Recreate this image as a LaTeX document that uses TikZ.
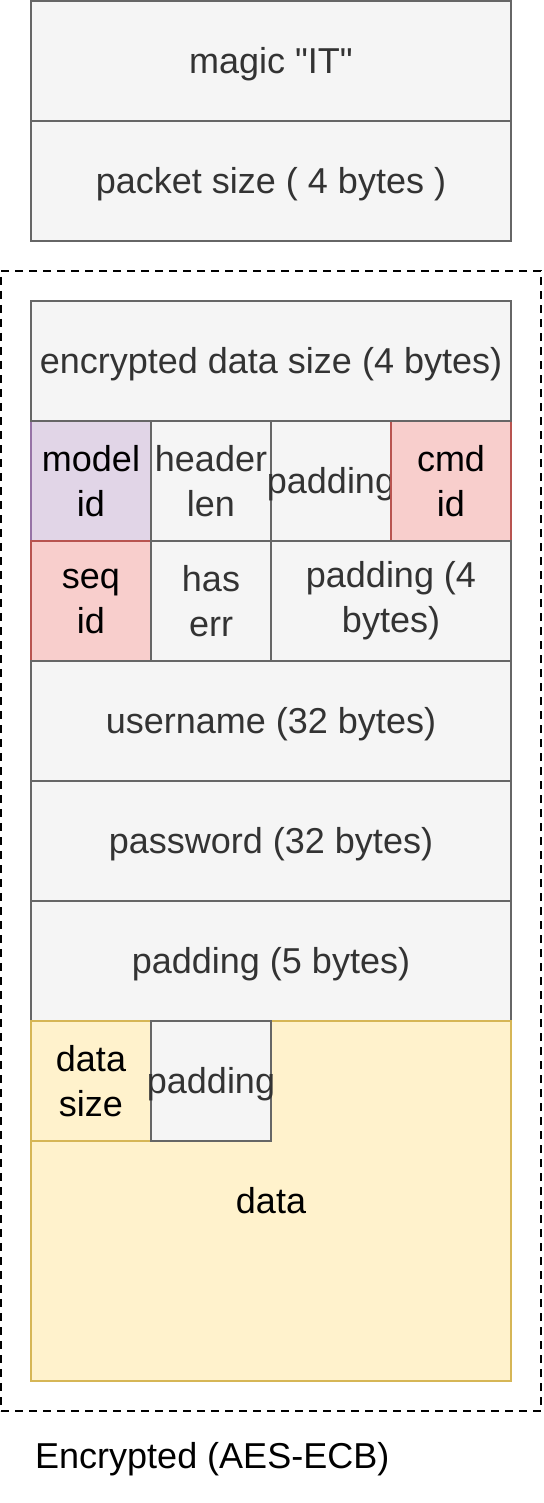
\documentclass[tikz,border=0pt]{standalone}
\usepackage{fontspec}
\setmainfont{Liberation Sans}[Ligatures=TeXOff]
\definecolor{gfill}{HTML}{F5F5F5}
\definecolor{gline}{HTML}{666666}
\definecolor{gtext}{HTML}{333333}
\definecolor{pfill}{HTML}{E1D5E7}
\definecolor{pline}{HTML}{9673A6}
\definecolor{rfill}{HTML}{F8CECC}
\definecolor{rline}{HTML}{B85450}
\definecolor{yfill}{HTML}{FFF2CC}
\definecolor{yline}{HTML}{D6B656}
\newcommand\fstrut{\rule[-7.6pt]{0pt}{40.2pt}}
\begin{document}
\begin{tikzpicture}[x=1pt,y=-1pt,
  box/.style={draw=gline, fill=gfill, text=gtext, line width=2.6pt,
    minimum width=120pt, minimum height=120pt, inner sep=0pt, outer sep=0pt,
    align=center, anchor=north west, font=\fontsize{36}{45}\selectfont},
  wide/.style={minimum width=480pt},
  purple/.style={draw=pline, fill=pfill, text=black},
  red/.style={draw=rline, fill=rfill, text=black},
  yellow/.style={draw=yline, fill=yfill, text=black},
  encbox/.style={draw=black, line width=2.6pt, dash pattern=on 8pt off 6pt,
    minimum width=540pt, minimum height=1140pt, inner sep=0pt, outer sep=0pt, anchor=north west},
  lbl/.style={font=\fontsize{36}{45}\selectfont, text=black, inner sep=0pt, anchor=base west}]
\useasboundingbox (0,0) rectangle (543,1503);
% header
\node[box, wide] (magic) at (31,1) {\fstrut magic "IT"};
\node[box, wide] (psize) at (31,121) {\fstrut packet size ( 4 bytes )};
% encrypted region
\node[encbox] (enc) at (1,271) {};
\node[box, purple] (model) at (31,421) {model\\id};
\node[box, red] (seq) at (31,541) {seq\\id};
\node[box] (hlen) at (151,421) {header\\len};
\node[box] (haserr) at (151,541) {has\\err};
\node[box] (pad1) at (271,421) {\makebox[0pt]{\fstrut padding}};
\node[box, red] (cmd) at (391,421) {cmd\\id};
\node[box, minimum width=240pt] (pad4) at (271,541) {padding (4\\bytes)};
\node[box, wide] (esize) at (31,301) {\fstrut encrypted data size (4 bytes)};
\node[box, wide] (user) at (31,661) {\fstrut username (32 bytes)};
\node[box, wide] (pass) at (31,781) {\fstrut password (32 bytes)};
\node[box, wide] (pad5) at (31,901) {\fstrut padding (5 bytes)};
\node[box, wide, yellow, minimum height=360pt] (data) at (31,1021) {\fstrut data};
\node[box, yellow] (dsize) at (31,1021) {data\\size};
\node[box] (pad6) at (151,1021) {\makebox[0pt]{\fstrut padding}};
\node[lbl] (enclbl) at (35,1468) {Encrypted (AES-ECB)};
\end{tikzpicture}
\end{document}
